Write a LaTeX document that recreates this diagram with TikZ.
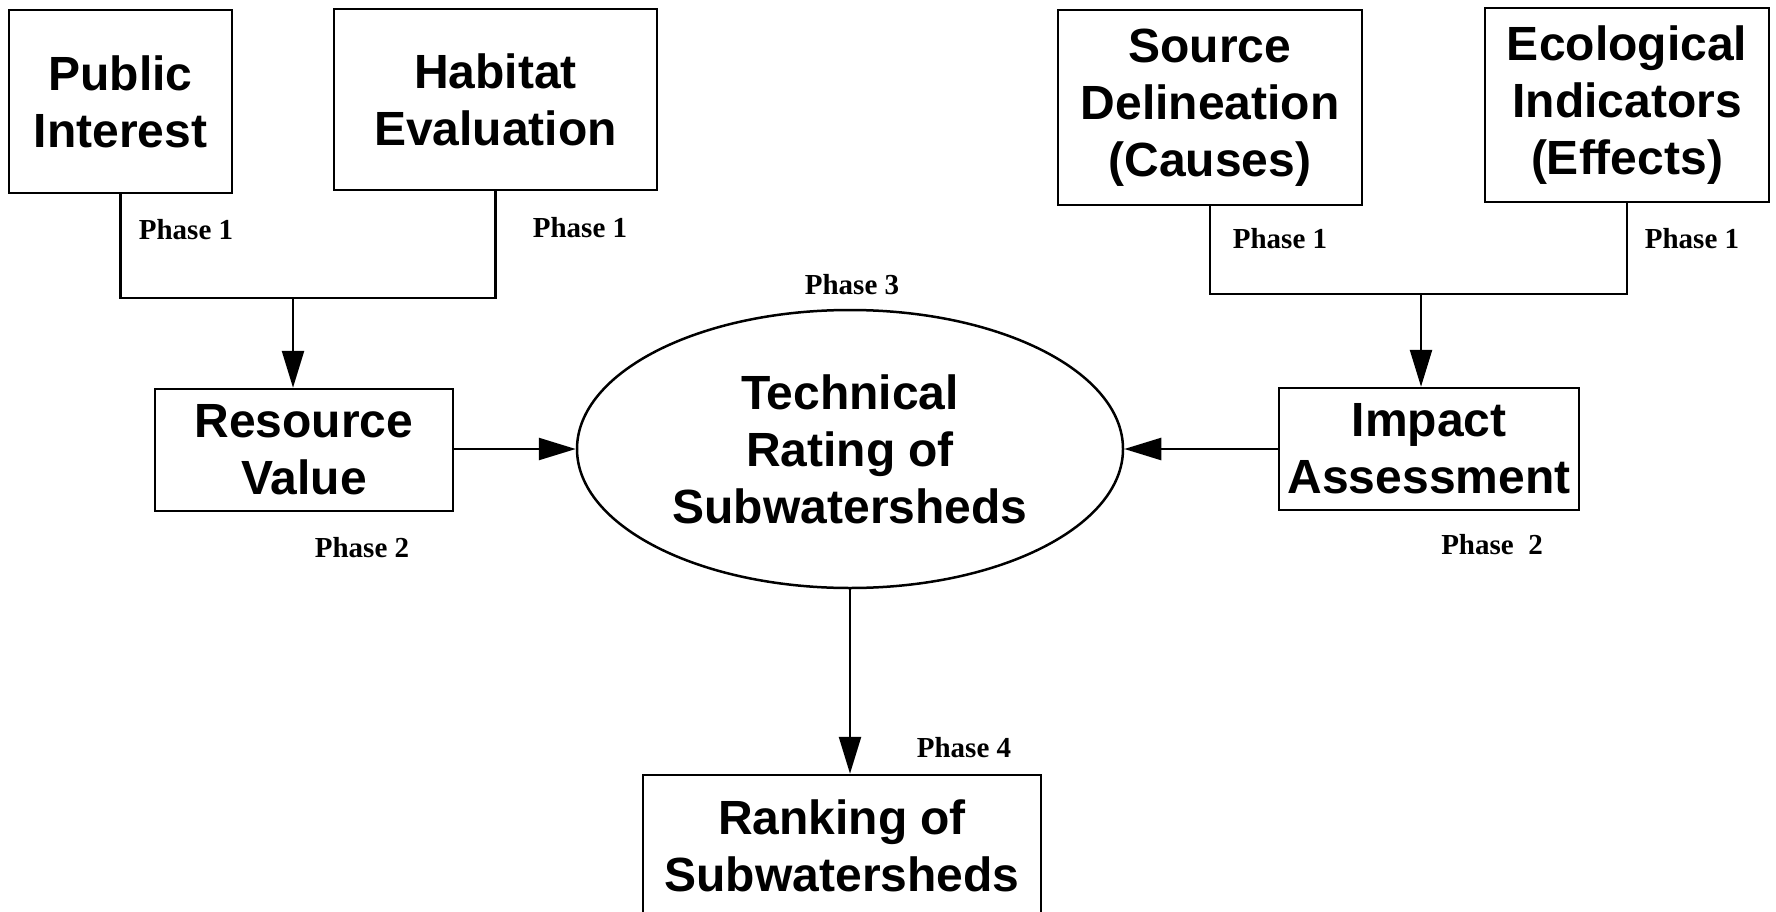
\documentclass[tikz,border=0pt]{standalone}
\usepackage{fontspec}
\setmainfont{Liberation Sans}
\newfontfamily\phasefont{Liberation Serif}
\usetikzlibrary{arrows.meta,shapes.geometric}
\begin{document}
\begin{tikzpicture}[x=1pt,y=-1pt,
  box/.style={draw, line width=2.5pt, align=center, inner sep=0pt,
    font=\bfseries\fontsize{48}{57}\selectfont},
  phase/.style={inner sep=0pt, font=\phasefont\bfseries\fontsize{29}{34}\selectfont},
  link/.style={line width=2.5pt},
  arr/.style={line width=2.5pt, -{Triangle[length=37pt,width=22pt]}}]
\useasboundingbox (0,0) rectangle (1776,912);
\clip (0,0) rectangle (1776,912);
\fill[white] (0,0) rectangle (1776,912);

% top boxes
\node[box, minimum width=223pt, minimum height=183pt] (pub) at (120.5,101.5) {Public\\Interest};
\node[box, minimum width=323pt, minimum height=181pt] (hab) at (495.5,99.5) {Habitat\\Evaluation};
\node[box, minimum width=304pt, minimum height=195pt] (src) at (1210,107.5) {Source\\Delineation\\(Causes)};
\node[box, minimum width=284pt, minimum height=194pt] (eco) at (1627,105) {Ecological\\Indicators\\(Effects)};

% middle
\node[box, minimum width=298pt, minimum height=122pt] (res) at (304,450) {Resource\\Value};
\node[box, ellipse, minimum width=546pt, minimum height=278pt] (tech) at (850,449) {Technical\\Rating of\\Subwatersheds};
\node[box, minimum width=300pt, minimum height=122pt] (imp) at (1429,449) {Impact\\Assessment};

% bottom (lower edge runs off the page)
\node[box, minimum width=398pt, minimum height=142pt] (rank) at (842,846) {Ranking of\\Subwatersheds};

% junctions
\coordinate (lj) at (293,298);
\coordinate (rj) at (1421,294);

% left bracket
\draw[link] (pub.south) -- (pub.south |- lj) -- (hab.south |- lj) -- (hab.south);
\draw[arr] (lj) -- (lj |- res.north);
% right bracket
\draw[link] (src.south) -- (src.south |- rj) -- (eco.south |- rj) -- (eco.south);
\draw[arr] (rj) -- (rj |- imp.north);

% into ellipse
\draw[arr] (res.east |- tech.west) -- (tech.west);
\draw[arr] (imp.west |- tech.east) -- (tech.east);
\draw[arr] (tech.south) -- (tech.south |- rank.north);

% phase labels
\node[phase] (p1a) at (186,230) {Phase 1};
\node[phase] (p1b) at (580,228) {Phase 1};
\node[phase] (p1c) at (1280,239) {Phase 1};
\node[phase] (p1d) at (1692,239) {Phase 1};
\node[phase] (p3) at (852,285) {Phase 3};
\node[phase] (p2a) at (362,548) {Phase 2};
\node[phase] (p2b) at (1492,545) {Phase\ \ 2};
\node[phase] (p4) at (964,748) {Phase 4};
\end{tikzpicture}
\end{document}
